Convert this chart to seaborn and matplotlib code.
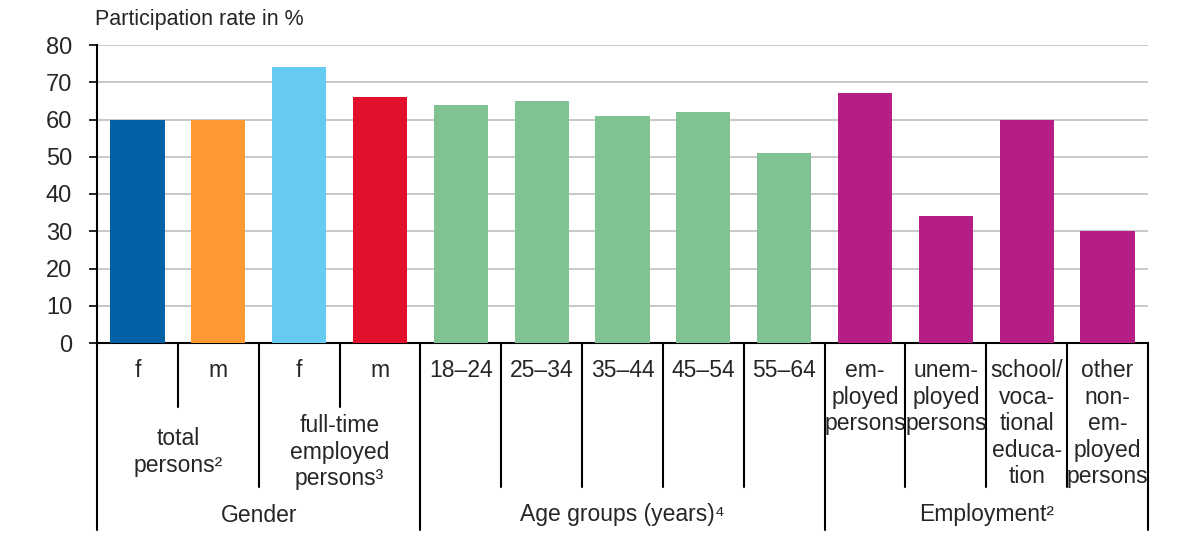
import matplotlib
matplotlib.use("Agg")
import matplotlib.pyplot as plt
import matplotlib.transforms as mtransforms
from matplotlib.lines import Line2D
import pandas as pd
import seaborn as sns

# values
keys = ["tot_f", "tot_m", "ft_f", "ft_m", "a18", "a25", "a35", "a45", "a55",
        "emp", "unemp", "school", "other"]
values = [60, 60, 74, 66, 64, 65, 61, 62, 51, 67, 34, 60, 30]
colors = ["#0061A5", "#FF9933", "#66CBF2", "#E3102C",
          "#80C291", "#80C291", "#80C291", "#80C291", "#80C291",
          "#B51F85", "#B51F85", "#B51F85", "#B51F85"]
tick_labels = ["f", "m", "f", "m", "18\u201324", "25\u201334", "35\u201344", "45\u201354", "55\u201364",
               "em-\nployed\npersons", "unem-\nployed\npersons",
               "school/\nvoca-\ntional\neduca-\ntion",
               "other\nnon-\nem-\nployed\npersons"]
subgroups = [("total\npersons\u00b2", 0, 1), ("full-time\nemployed\npersons\u00b3", 2, 3)]
groups = [("Gender", 0, 3), ("Age groups (years)\u2074", 4, 8), ("Employment\u00b2", 9, 12)]

sns.set_style("white")
plt.rcParams["font.family"] = ["Liberation Sans", "DejaVu Sans"]

W, H = 1184, 543
fig = plt.figure(figsize=(W / 100, H / 100), dpi=100)
ax = fig.add_axes([97 / W, 1 - 343 / H, 1051 / W, 298 / H])

df = pd.DataFrame({"key": keys, "value": values})
sns.barplot(data=df, x="key", y="value", hue="key", palette=colors,
            legend=False, width=0.67, saturation=1, linewidth=0, ax=ax, zorder=3)

ax.set_xlim(-0.5, len(keys) - 0.5)
ax.set_ylim(0, 80)
ax.set_yticks(range(0, 81, 10))
ax.yaxis.grid(True, color="#C8C8C8", linewidth=1.4, zorder=0)
ax.set_axisbelow(True)
ax.tick_params(axis="y", labelsize=17, length=6, width=1.2, color="black", left=True, pad=12)
ax.set_xticks([])
ax.set_xlabel("")
ax.set_ylabel("")
for s in ["top", "right"]:
    ax.spines[s].set_visible(False)
for s in ["left", "bottom"]:
    ax.spines[s].set_color("black")
    ax.spines[s].set_linewidth(1.5)

fig.text(95 / W, 1 - 20 / H, "Participation rate in %", fontsize=15.5, va="center", ha="left")

trans = mtransforms.blended_transform_factory(ax.transData, fig.transFigure)

def fy(py):
    return 1 - py / H

def vline(x, y_end):
    ax.add_line(Line2D([x, x], [fy(343), fy(y_end)], transform=trans, color="black",
                       linewidth=1.5, clip_on=False))

# category labels
for i, lab in enumerate(tick_labels):
    ax.text(i, fy(359), lab, transform=trans, ha="center", va="top",
            fontsize=16.5, linespacing=1.2)

# separators
sub_inner = [s + 0.5 for _, s, e in subgroups if e > s]
group_edges = [-0.5] + [e + 0.5 for _, _, e in groups]
for b in [i + 0.5 for i in range(len(keys) - 1)]:
    if b in group_edges:
        continue
    if b in sub_inner:
        vline(b, 407)
    else:
        vline(b, 487)
for b in group_edges:
    vline(b, 530)

for lab, s, e in subgroups:
    ax.text((s + e) / 2, fy(452), lab, transform=trans, ha="center", va="center",
            fontsize=16.5, linespacing=1.2)
for lab, s, e in groups:
    ax.text((s + e) / 2, fy(515), lab, transform=trans, ha="center", va="center", fontsize=16.5)

fig.savefig("out.png", dpi=100)
